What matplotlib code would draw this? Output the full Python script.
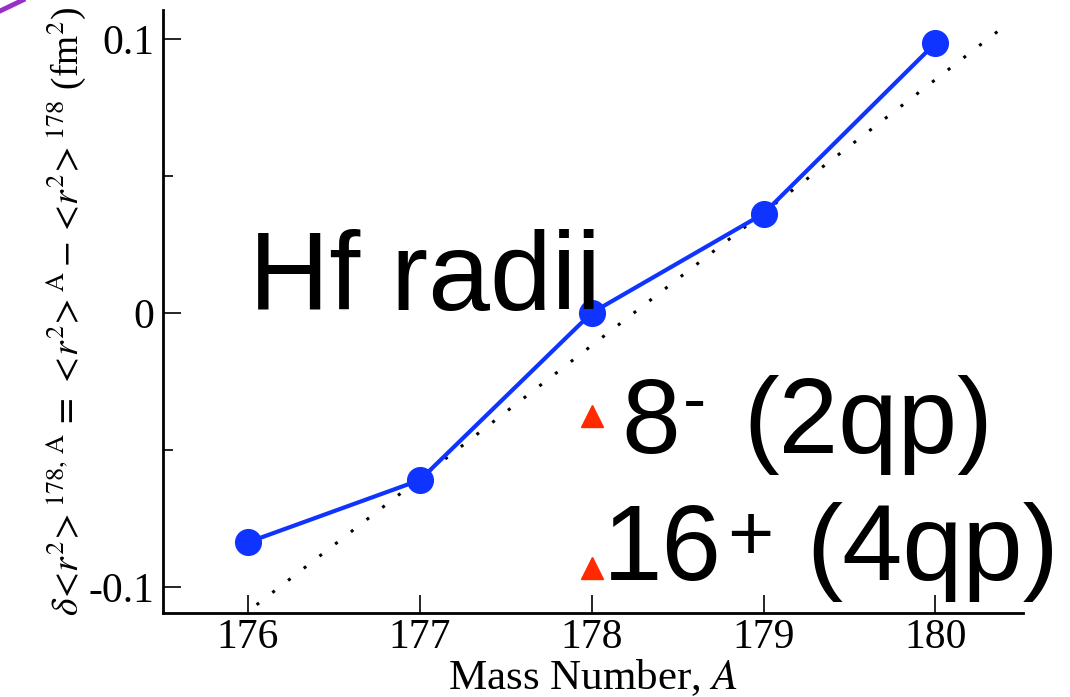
import matplotlib
matplotlib.use('Agg')
import matplotlib.pyplot as plt
from matplotlib.lines import Line2D
from matplotlib.ticker import MultipleLocator

plt.rcParams['font.family'] = ['Liberation Serif', 'DejaVu Serif']
plt.rcParams['mathtext.fontset'] = 'stix'

# data
mass = [176, 177, 178, 179, 180]
delta_r2 = [-0.0837, -0.0610, 0.0, 0.0362, 0.0984]
isomer_mass = [178, 178]
isomer_delta = [-0.0377, -0.0932]
trend_mass = [176.05, 180.4]
trend_delta = [-0.1065, 0.1045]
x_ticks = [176, 177, 178, 179, 180]
y_ticks = [-0.1, 0, 0.1]
y_tick_labels = ['-0.1', '0', '0.1']

W, H = 1070, 697
fig = plt.figure(figsize=(W / 100, H / 100), dpi=100)
ax = fig.add_axes([163 / W, 1 - 613 / H, (1023 - 163) / W, (613 - 10) / H])


def px(x, y):
    return x / W, 1 - y / H


blue = '#1034ff'
ax.plot(trend_mass, trend_delta, color='black', lw=2.2, ls=(0, (1, 5.5)), zorder=1)
ax.plot(mass, delta_r2, color=blue, lw=3, marker='o', ms=18.5, zorder=3)
ax.plot(isomer_mass, isomer_delta, ls='none', marker='^', color='#ff2a00', ms=16, zorder=3)

ax.set_xlim(175.505, 180.51)
ax.set_ylim(-0.1095, 0.1105)
ax.set_xticks(x_ticks)
ax.set_yticks(y_ticks)
ax.set_yticklabels(y_tick_labels)
ax.yaxis.set_minor_locator(MultipleLocator(0.05))
for s in ['top', 'right']:
    ax.spines[s].set_visible(False)
for s in ['left', 'bottom']:
    ax.spines[s].set_linewidth(2)
ax.tick_params(axis='both', which='major', direction='in', length=13, width=1.2,
               labelsize=30, pad=6)
ax.tick_params(axis='y', which='minor', direction='in', length=7, width=1.2)
ax.tick_params(axis='x', pad=4)

ax.set_xlabel(r'Mass Number, $A$', fontsize=31, labelpad=0)
ax.set_ylabel(r'$\delta\!<\!r^{2}\!>^{178,\,\mathrm{A}}\,=\,<\!r^{2}\!>^{\mathrm{A}}\,\mathrm{-}\,<\!r^{2}\!>^{178}$ (fm$^{2}$)',
              fontsize=27, labelpad=2)
ax.yaxis.set_label_coords(-75 / (1023 - 163), 0.5)

sans = ['Liberation Sans', 'DejaVu Sans']
fig.text(*px(249, 310), 'Hf radii', fontsize=80, family=sans, va='baseline', ha='left')
fig.text(*px(621, 453), '8', fontsize=76, family=sans, va='baseline', ha='left')
fig.text(*px(683, 422), '-', fontsize=50, family=sans, va='baseline', ha='left')
fig.text(*px(743, 453), '(2qp)', fontsize=77, family=sans, va='baseline', ha='left')
fig.text(*px(603, 580), '16', fontsize=77, family=sans, va='baseline', ha='left')
fig.text(*px(727, 560), '+', fontsize=57, family=sans, va='baseline', ha='left')
fig.text(*px(806, 580), '(4qp)', fontsize=78, family=sans, va='baseline', ha='left')

# purple stroke in the top left corner
x0, y0 = px(0, 11)
x1, y1 = px(23, 0)
fig.add_artist(Line2D([x0, x1], [y0, y1], color='#9a2fc8', lw=3.5, transform=fig.transFigure))

fig.savefig('out.png', dpi=100)
